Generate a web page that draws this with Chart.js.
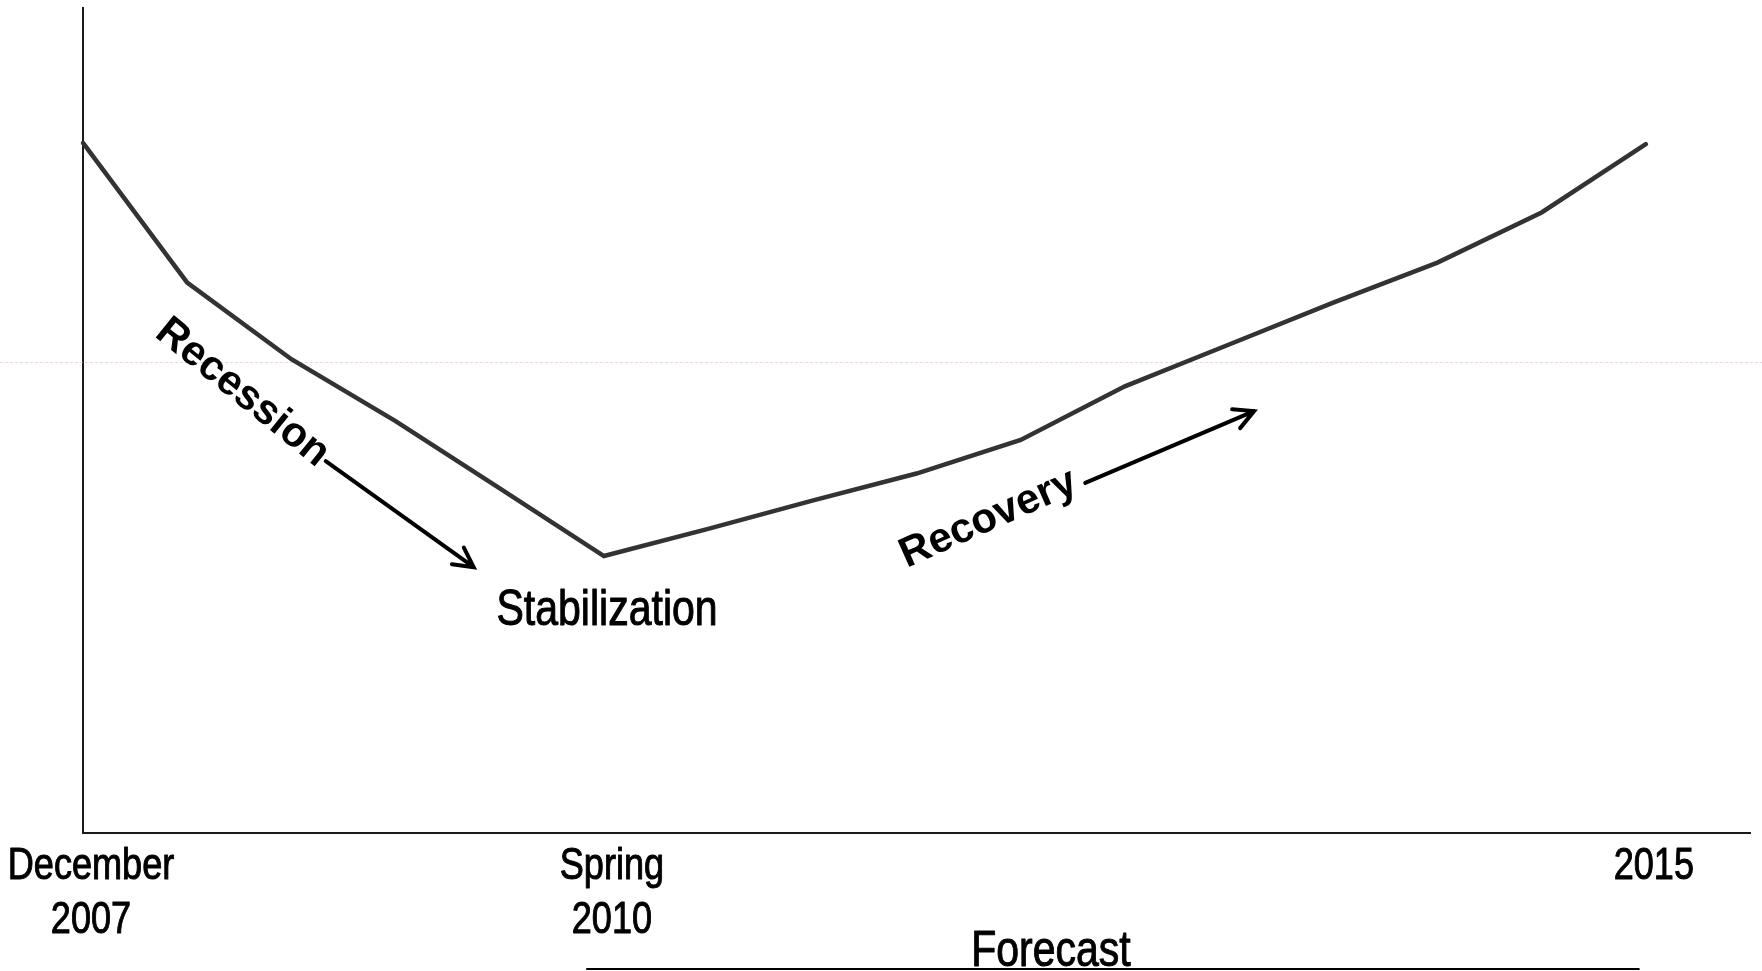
<!DOCTYPE html>
<html>
<head>
<meta charset="utf-8">
<script src="https://cdn.jsdelivr.net/npm/chart.js@4.4.1/dist/chart.umd.min.js"></script>
<style>
  html, body { margin: 0; padding: 0; background: #fff; }
  #wrap { width: 1762px; height: 971px; }
</style>
</head>
<body>
<div id="wrap"><canvas id="chart"></canvas></div>
<script>
// Half-year steps from Dec 2007; only three carry a label, last slot is empty room
const periods = [['December', '2007'], '', '', '', '', ['Spring', '2010'], '', '', '', '', '', '', '', '', '', '2015', ''];
// Index values
const outlook = [117.1, 93.4, 80.4, 69.9, 58.5, 47.0, 51.6, 56.4, 61.0, 66.7, 75.8, 82.9, 90.0, 96.8, 105.3, 116.9];
const yRange = [0, 140];
const yGrid = [80];

// Annotation anchors, in data units (x = category index, y = index value)
const phaseLabels = [
    { text: 'Recession', x: 1.53, y: 74.7, angle: 39, bold: true },
    { text: 'Recovery', x: 8.69, y: 53.3, angle: -24, bold: true },
    { text: 'Stabilization', x: 5.03, y: 35.3, angle: 0, bold: false }
];
const phaseArrows = [
    { from: [2.33, 63.1], to: [3.75, 45.1] },
    { from: [9.62, 59.4], to: [11.24, 71.6] }
];
const forecastSpan = [4.83, 14.94];
const forecastLabelAt = 9.29;

const WIDE = '"Liberation Sans", Arial, sans-serif';
const SQUEEZE = 0.82;   // fake Arial Narrow by squeezing Liberation Sans

function narrowText(ctx, text, px, py, size) {
    ctx.save();
    ctx.translate(px, py);
    ctx.scale(SQUEEZE, 1);
    ctx.font = size + 'px ' + WIDE;
    ctx.fillText(text, 0, 0);
    // a hairline stroke to match the heavier look of the original
    ctx.strokeStyle = ctx.fillStyle;
    ctx.lineWidth = 1;
    ctx.lineJoin = 'round';
    ctx.strokeText(text, 0, 0);
    ctx.restore();
}

function drawArrow(ctx, x1, y1, x2, y2) {
    const ang = Math.atan2(y2 - y1, x2 - x1);
    const len = 22, spread = Math.PI / 6.5;
    ctx.beginPath();
    ctx.moveTo(x1, y1);
    ctx.lineTo(x2, y2);
    ctx.moveTo(x2 - len * Math.cos(ang - spread), y2 - len * Math.sin(ang - spread));
    ctx.lineTo(x2, y2);
    ctx.lineTo(x2 - len * Math.cos(ang + spread), y2 - len * Math.sin(ang + spread));
    ctx.stroke();
}

const annotate = {
    id: 'annotate',
    beforeDatasetsDraw(chart) {
        // faint dashed reference line running the full width
        const { ctx, scales: { y } } = chart;
        ctx.save();
        ctx.strokeStyle = 'rgba(215, 180, 200, 0.55)';
        ctx.lineWidth = 1;
        ctx.setLineDash([3, 2]);
        yGrid.forEach(v => {
            const py = Math.round(y.getPixelForValue(v)) + 0.5;
            ctx.beginPath();
            ctx.moveTo(0, py);
            ctx.lineTo(chart.width, py);
            ctx.stroke();
        });
        ctx.restore();
    },
    afterDatasetsDraw(chart) {
        const { ctx, chartArea, scales: { x, y } } = chart;
        ctx.save();
        ctx.fillStyle = '#000';
        ctx.textAlign = 'center';

        // x tick labels (drawn here so they can use the narrow face)
        const tickSize = 44, lineH = tickSize * 1.22;
        ctx.textBaseline = 'middle';
        periods.forEach((lab, i) => {
            if (!lab) return;
            const lines = Array.isArray(lab) ? lab : [lab];
            const px = x.getPixelForValue(i) + 8;
            lines.forEach((t, k) => {
                narrowText(ctx, t, px, chartArea.bottom + 7 + lineH * (k + 0.5), tickSize);
            });
        });

        phaseLabels.forEach(l => {
            const px = x.getPixelForValue(l.x), py = y.getPixelForValue(l.y);
            if (l.bold) {
                ctx.save();
                ctx.translate(px, py);
                ctx.rotate(l.angle * Math.PI / 180);
                ctx.font = 'bold 42px ' + WIDE;
                ctx.textBaseline = 'middle';
                ctx.fillText(l.text, 0, 0);
                ctx.restore();
            } else {
                ctx.textBaseline = 'alphabetic';
                narrowText(ctx, l.text, px, py, 50);
            }
        });

        ctx.strokeStyle = '#000';
        ctx.lineWidth = 4;
        ctx.lineCap = 'round';
        ctx.lineJoin = 'miter';
        phaseArrows.forEach(a => {
            drawArrow(ctx,
                x.getPixelForValue(a.from[0]), y.getPixelForValue(a.from[1]),
                x.getPixelForValue(a.to[0]), y.getPixelForValue(a.to[1]));
        });

        // Forecast bracket under the axis labels
        ctx.textBaseline = 'alphabetic';
        narrowText(ctx, 'Forecast', x.getPixelForValue(forecastLabelAt), chart.height - 5, 50);
        ctx.strokeStyle = '#000';
        ctx.lineWidth = 2;
        ctx.lineCap = 'butt';
        ctx.beginPath();
        ctx.moveTo(x.getPixelForValue(forecastSpan[0]), chart.height - 2);
        ctx.lineTo(x.getPixelForValue(forecastSpan[1]), chart.height - 2);
        ctx.stroke();
        ctx.restore();
    }
};

new Chart(document.getElementById('chart'), {
    type: 'line',
    data: {
        labels: periods,
        datasets: [{
            data: outlook,
            borderColor: '#333333',
            borderWidth: 4.5,
            borderCapStyle: 'round',
            pointRadius: 0,
            tension: 0,
            fill: false
        }]
    },
    options: {
        responsive: true,
        maintainAspectRatio: false,
        animation: false,
        layout: { padding: { top: 8, right: 12, left: 0, bottom: 0 } },
        plugins: {
            legend: { display: false },
            tooltip: { enabled: false }
        },
        scales: {
            x: {
                grid: { display: false, drawTicks: false },
                border: { display: true, color: '#1a1a1a', width: 2 },
                ticks: { display: false },
                afterFit: s => { s.height = 138; }
            },
            y: {
                min: yRange[0],
                max: yRange[1],
                grid: { display: false, drawTicks: false },
                border: { display: true, color: '#1a1a1a', width: 2 },
                ticks: { display: false },
                afterFit: s => { s.width = 83; }
            }
        }
    },
    plugins: [annotate]
});
</script>
</body>
</html>
